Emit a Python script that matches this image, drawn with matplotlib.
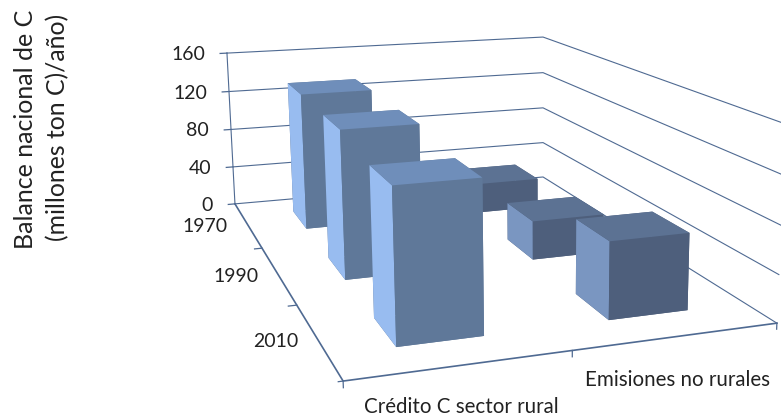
import numpy as np
import matplotlib
matplotlib.use("Agg")
import matplotlib.pyplot as plt

plt.rcParams["font.family"] = ["Lato", "DejaVu Sans"]

# Chart data
years = ["1970", "1990", "2010"]
series_names = ["Crédito C sector rural", "Emisiones no rurales"]
credito_rural = [134, 133, 125]
emisiones_no_rurales = [30, 36, 65]
z_ticks = [0, 40, 80, 120, 160]

# Face colours: bottom, top, back, front, left, right
faces_credito = ["#5f7899", "#6f8eba", "#5f7899", "#5f7899", "#98bcf0", "#5f7899"]
faces_emisiones = ["#4e5f7c", "#5c7293", "#4e5f7c", "#4e5f7c", "#7a96c1", "#4e5f7c"]
LINE = "#4f6a92"
INK = "#222222"

W, H = 781, 416
Z_MAX = z_ticks[-1]
X_MAX, Y_MAX = len(series_names), len(years)

# Camera calibration: box corners (x, depth, z) and where they land on the canvas
corner_world = [(0, 0, 0), (0, Y_MAX, 0), (X_MAX, Y_MAX, 0), (X_MAX, 0, 0),
                (0, 0, Z_MAX), (X_MAX, 0, Z_MAX), (X_MAX, Y_MAX, Z_MAX)]
corner_canvas = [(235, 204), (343, 381), (777, 323), (543, 177),
                 (227, 53), (543, 37), (785, 124)]


def solve_camera(world, canvas):
    rows = []
    for (x, y, z), (u, v) in zip(world, canvas):
        rows.append([x, y, z, 1, 0, 0, 0, 0, -u * x, -u * y, -u * z, -u])
        rows.append([0, 0, 0, 0, x, y, z, 1, -v * x, -v * y, -v * z, -v])
    cam = np.linalg.svd(np.array(rows, float))[2][-1].reshape(3, 4)
    return cam / cam[2, 3]


camera = solve_camera(corner_world, corner_canvas)

fig = plt.figure(figsize=(W / 100, H / 100), dpi=100, facecolor="white")
ax = fig.add_axes([0, 0, 1, 1], projection="3d", computed_zorder=False)
ax.set_proj_type("ortho")
ax.set_axis_off()
ax.patch.set_visible(False)
ax.apply_aspect = lambda position=None: None


def perspective_proj():
    # Canvas pixels (y down) to the axes' 2D coordinates
    to_data = ax.transData.inverted().get_matrix() @ np.array(
        [[1, 0, 0], [0, -1, H], [0, 0, 1]], float)
    depth = np.array([0.3, -1.0, -0.01, 6.0])
    m = np.vstack([camera[0], camera[1], depth, camera[2]])
    lift = np.array([[to_data[0, 0], to_data[0, 1], 0, to_data[0, 2]],
                     [to_data[1, 0], to_data[1, 1], 0, to_data[1, 2]],
                     [0, 0, 1, 0],
                     [0, 0, 0, 1]])
    return lift @ m


ax.get_proj = perspective_proj
ax.M = perspective_proj()


def label_at(x, y, z, text, dx=0, dy=0, **kw):
    # Label anchored at a 3D point, placed in figure coordinates
    u, v, w = camera @ np.array([x, y, z, 1.0])
    fig.text((u / w + dx) / W, 1 - (v / w + dy) / H, text, color=INK, **kw)


# Walls and floor
for z in z_ticks:
    ax.plot([0, X_MAX, X_MAX], [0, 0, Y_MAX], [z, z, z], color=LINE, lw=0.8, zorder=1)
    ax.plot([-0.04, 0], [0, 0], [z, z], color=LINE, lw=0.9, zorder=1)
    label_at(0, 0, z, str(z), dx=-22, dy=1.5, ha="right", va="center", fontsize=14)
ax.plot([0, 0], [0, 0], [0, Z_MAX], color=LINE, lw=0.8, zorder=1)
ax.plot([0, 0, X_MAX], [0, Y_MAX, Y_MAX], [0, 0, 0], color=LINE, lw=1.2, zorder=1)

# Depth axis ticks and labels
for j, year in enumerate(years):
    if j > 0:
        ax.plot([-0.04, 0], [j, j], [0, 0], color=LINE, lw=0.9, zorder=1)
    label_at(0, j + 0.5, 0, year, dx=-20, dy=1.5, ha="right", va="center", fontsize=14)
ax.plot([-0.02, 0], [Y_MAX, Y_MAX], [0, 0], color=LINE, lw=0.9, zorder=1)

# Series axis ticks and labels
for i in range(X_MAX + 1):
    ax.plot([i, i], [Y_MAX, Y_MAX], [0, -5], color=LINE, lw=0.9, zorder=1)
for i, (name, drop) in enumerate(zip(series_names, (42, 44))):
    label_at(i + 0.5, Y_MAX, 0, name, dy=drop, ha="center", va="center", fontsize=14.8)

# Bars, back row first; within a row the far series goes first
bar_order = 10
for j in range(len(years)):
    for i, (vals, faces) in reversed(list(enumerate(
            [(credito_rural, faces_credito), (emisiones_no_rurales, faces_emisiones)]))):
        ax.bar3d(i + 0.3, j + 0.3, 0, 0.4, 0.4, vals[j], color=faces, shade=False,
                 linewidth=0.3, edgecolor=None, zorder=bar_order)
        bar_order += 1

# Value axis title, two rotated lines
fig.text(26 / W, 1 - 129 / H, "Balance nacional de C", rotation=90, ha="center", va="center",
         fontsize=18, color=INK)
fig.text(58 / W, 1 - 127 / H, "(millones ton C)/año)", rotation=90, ha="center", va="center",
         fontsize=17.8, color=INK)

fig.savefig("out.png", dpi=100, facecolor="white")
